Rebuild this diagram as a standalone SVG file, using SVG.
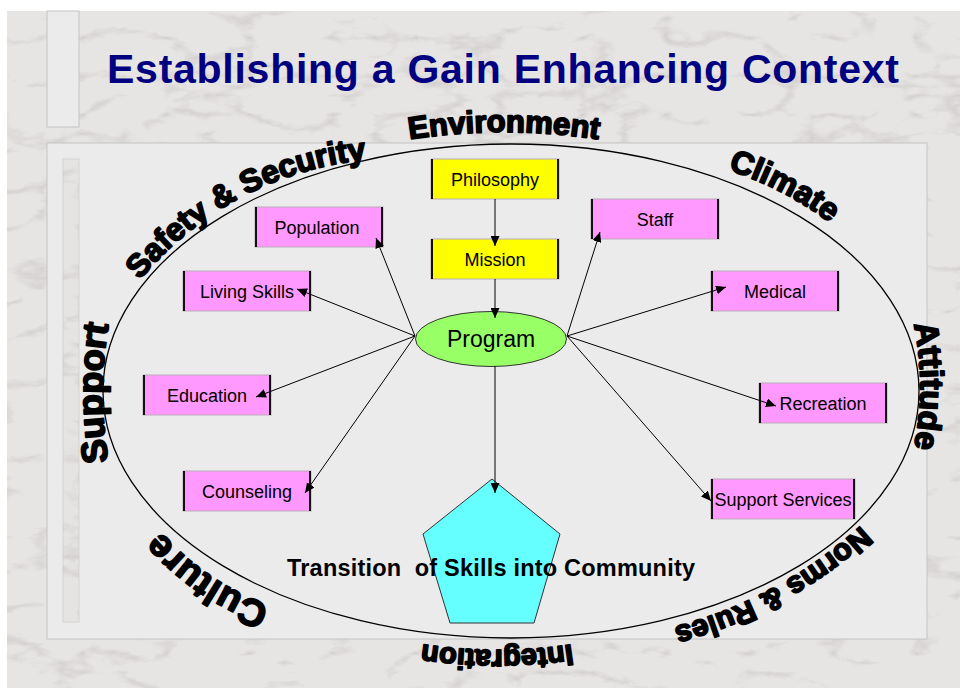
<svg xmlns="http://www.w3.org/2000/svg" width="960" height="688" viewBox="0 0 960 688">
  <defs>
    <!-- soft grey marble veins, clipped to whatever shape uses the filter -->
    <filter id="marble" filterUnits="userSpaceOnUse" x="0" y="0" width="960" height="688">
      <feTurbulence type="turbulence" baseFrequency="0.012 0.026" numOctaves="4" seed="11" result="noise"/>
      <feColorMatrix in="noise" type="matrix" values="0 0 0 0 0.5  0 0 0 0 0.47  0 0 0 0 0.47  -1.9 0 0 0 0.45" result="veins"/>
      <feComposite in="veins" in2="SourceGraphic" operator="in"/>
    </filter>
    <marker id="arrow" markerUnits="userSpaceOnUse" markerWidth="10" markerHeight="9" refX="10" refY="4.5" orient="auto">
      <path d="M0,0 L10,4.5 L0,9 Z" fill="#000"/>
    </marker>
    <!-- baselines for the curved context words (clockwise, tops outward) -->
    <path id="arc-environment" d="M358.8,149.8 A600,600 0 0,1 649.2,149.8"/>
    <path id="arc-safety" d="M88.1,367.3 A334.5,334.5 0 0,1 467.7,165.4"/>
    <path id="arc-climate" d="M609.3,154.3 A340,340 0 0,1 911.2,310.7"/>
    <path id="arc-attitude" d="M906.5,296 A300,300 0 0,1 906.5,476"/>
    <path id="arc-norms" d="M917.4,462.7 A440,440 0 0,1 590.5,640.2"/>
    <path id="arc-integration" d="M626.4,633 A500,500 0 0,1 367.6,633"/>
    <path id="arc-culture" d="M324,617.5 A250,250 0 0,1 129.8,485.6"/>
    <path id="arc-support" d="M112.6,483 A420,420 0 0,1 112.6,303"/>
  </defs>
  <style>
    .panel { fill: #ebebeb; stroke: #c4c4c4; stroke-width: 1; }
    .box rect { stroke: #b9abb9; stroke-width: 1; }
    .pink { fill: #ff99ff; }
    .yellow { fill: #ffff00; }
    .edge { stroke: #111; stroke-width: 2; }
    .label { font-family: "Liberation Sans", Arial, sans-serif; font-size: 18px; fill: #000; text-anchor: middle; }
    .wa { font-family: "Liberation Sans", Arial, sans-serif; font-weight: bold; fill: #000; stroke: #000; stroke-width: 1.8; stroke-linejoin: round; }
    .conn line { stroke: #000; stroke-width: 1; marker-end: url(#arrow); }
  </style>

  <!-- backdrop -->
  <rect width="960" height="688" fill="#ffffff"/>
  <rect x="7" y="11" width="953" height="677" fill="#e7e4e4"/>
  <rect x="7" y="11" width="953" height="677" fill="#e7e4e4" filter="url(#marble)"/>

  <!-- panels -->
  <rect class="panel" x="47" y="11" width="32" height="116"/>
  <rect class="panel" x="47" y="143" width="880" height="496"/>
  <rect x="63" y="159" width="16" height="463" fill="#e6e3e3" stroke="#d4d4d4"/>
  <rect x="63" y="159" width="16" height="463" fill="#e6e3e3" filter="url(#marble)"/>

  <!-- title -->
  <text id="title" x="107" y="83" textLength="792" font-family="Liberation Sans, Arial, sans-serif" font-weight="bold" font-size="41" fill="#000080">Establishing a Gain Enhancing Context</text>

  <!-- context ring -->
  <ellipse id="context-ring" cx="511" cy="391" rx="408" ry="247" fill="none" stroke="#000" stroke-width="1.3"/>

  <g id="context-labels">
    <text class="wa" font-size="31"><textPath href="#arc-environment" startOffset="50%" text-anchor="middle">Environment</textPath></text>
    <text class="wa" font-size="32"><textPath href="#arc-safety" startOffset="50%" text-anchor="middle">Safety &amp; Security</textPath></text>
    <text class="wa" font-size="32"><textPath href="#arc-climate" startOffset="50%" text-anchor="middle">Climate</textPath></text>
    <text class="wa" font-size="33"><textPath href="#arc-attitude" startOffset="50%" text-anchor="middle">Attitude</textPath></text>
    <text class="wa" font-size="30"><textPath href="#arc-norms" startOffset="50%" text-anchor="middle">Norms &amp; Rules</textPath></text>
    <text class="wa" font-size="29"><textPath href="#arc-integration" startOffset="50%" text-anchor="middle">Integration</textPath></text>
    <text class="wa" font-size="38"><textPath href="#arc-culture" startOffset="50%" text-anchor="middle">Culture</textPath></text>
    <text class="wa" font-size="36"><textPath href="#arc-support" startOffset="50%" text-anchor="middle">Support</textPath></text>
  </g>

  <!-- transition pentagon -->
  <g id="transition">
    <polygon points="492,479 560,534 534,623 450,623 423,534" fill="#66ffff" stroke="#333" stroke-width="1"/>
  </g>

  <!-- program hub -->
  <g id="program">
    <ellipse cx="491" cy="339" rx="75.5" ry="27.5" fill="#99ff66" stroke="#333" stroke-width="1"/>
    <text x="491" y="347" font-family="Liberation Sans, Arial, sans-serif" font-size="23" text-anchor="middle" fill="#000">Program</text>
  </g>

  <!-- foundation boxes -->
  <g id="philosophy" class="box">
    <rect class="yellow" x="431" y="159" width="128" height="40"/>
    <line class="edge" x1="432" y1="159" x2="432" y2="199"/><line class="edge" x1="558" y1="159" x2="558" y2="199"/>
    <text class="label" x="495" y="186">Philosophy</text>
  </g>
  <g id="mission" class="box">
    <rect class="yellow" x="431" y="239" width="128" height="40"/>
    <line class="edge" x1="432" y1="239" x2="432" y2="279"/><line class="edge" x1="558" y1="239" x2="558" y2="279"/>
    <text class="label" x="495" y="266">Mission</text>
  </g>

  <!-- service boxes, left side -->
  <g id="population" class="box">
    <rect class="pink" x="255" y="207" width="128" height="40"/>
    <line class="edge" x1="256" y1="207" x2="256" y2="247"/><line class="edge" x1="382" y1="207" x2="382" y2="247"/>
    <text class="label" x="317" y="234">Population</text>
  </g>
  <g id="living-skills" class="box">
    <rect class="pink" x="183" y="271" width="128" height="40"/>
    <line class="edge" x1="184" y1="271" x2="184" y2="311"/><line class="edge" x1="310" y1="271" x2="310" y2="311"/>
    <text class="label" x="247" y="298">Living Skills</text>
  </g>
  <g id="education" class="box">
    <rect class="pink" x="143" y="375" width="128" height="40"/>
    <line class="edge" x1="144" y1="375" x2="144" y2="415"/><line class="edge" x1="270" y1="375" x2="270" y2="415"/>
    <text class="label" x="207" y="402">Education</text>
  </g>
  <g id="counseling" class="box">
    <rect class="pink" x="183" y="471" width="128" height="40"/>
    <line class="edge" x1="184" y1="471" x2="184" y2="511"/><line class="edge" x1="310" y1="471" x2="310" y2="511"/>
    <text class="label" x="247" y="498">Counseling</text>
  </g>

  <!-- service boxes, right side -->
  <g id="staff" class="box">
    <rect class="pink" x="591" y="199" width="128" height="40"/>
    <line class="edge" x1="592" y1="199" x2="592" y2="239"/><line class="edge" x1="718" y1="199" x2="718" y2="239"/>
    <text class="label" x="655" y="226">Staff</text>
  </g>
  <g id="medical" class="box">
    <rect class="pink" x="711" y="271" width="128" height="40"/>
    <line class="edge" x1="712" y1="271" x2="712" y2="311"/><line class="edge" x1="838" y1="271" x2="838" y2="311"/>
    <text class="label" x="775" y="298">Medical</text>
  </g>
  <g id="recreation" class="box">
    <rect class="pink" x="759" y="383" width="128" height="40"/>
    <line class="edge" x1="760" y1="383" x2="760" y2="423"/><line class="edge" x1="886" y1="383" x2="886" y2="423"/>
    <text class="label" x="823" y="410">Recreation</text>
  </g>
  <g id="support-services" class="box">
    <rect class="pink" x="711" y="479" width="144" height="40"/>
    <line class="edge" x1="712" y1="479" x2="712" y2="519"/><line class="edge" x1="854" y1="479" x2="854" y2="519"/>
    <text class="label" x="783" y="506">Support Services</text>
  </g>

  <!-- connectors, drawn over the boxes so the heads stay visible -->
  <g id="connectors" class="conn">
    <line x1="495" y1="199" x2="495" y2="246"/>
    <line x1="495" y1="279" x2="495" y2="318"/>
    <line x1="495" y1="366" x2="495" y2="493"/>
    <line x1="415" y1="336" x2="376" y2="238"/>
    <line x1="415" y1="336" x2="297" y2="289"/>
    <line x1="415" y1="336" x2="256" y2="397"/>
    <line x1="415" y1="336" x2="305" y2="493"/>
    <line x1="567" y1="336" x2="600" y2="232"/>
    <line x1="567" y1="336" x2="726" y2="287"/>
    <line x1="567" y1="336" x2="776" y2="406"/>
    <line x1="567" y1="336" x2="711" y2="501"/>
  </g>

  <!-- caption across the pentagon -->
  <text id="transition-label" x="287" y="576" textLength="408" xml:space="preserve" font-family="Liberation Sans, Arial, sans-serif" font-weight="bold" font-size="23.5" fill="#000">Transition  of Skills into Community</text>
</svg>
